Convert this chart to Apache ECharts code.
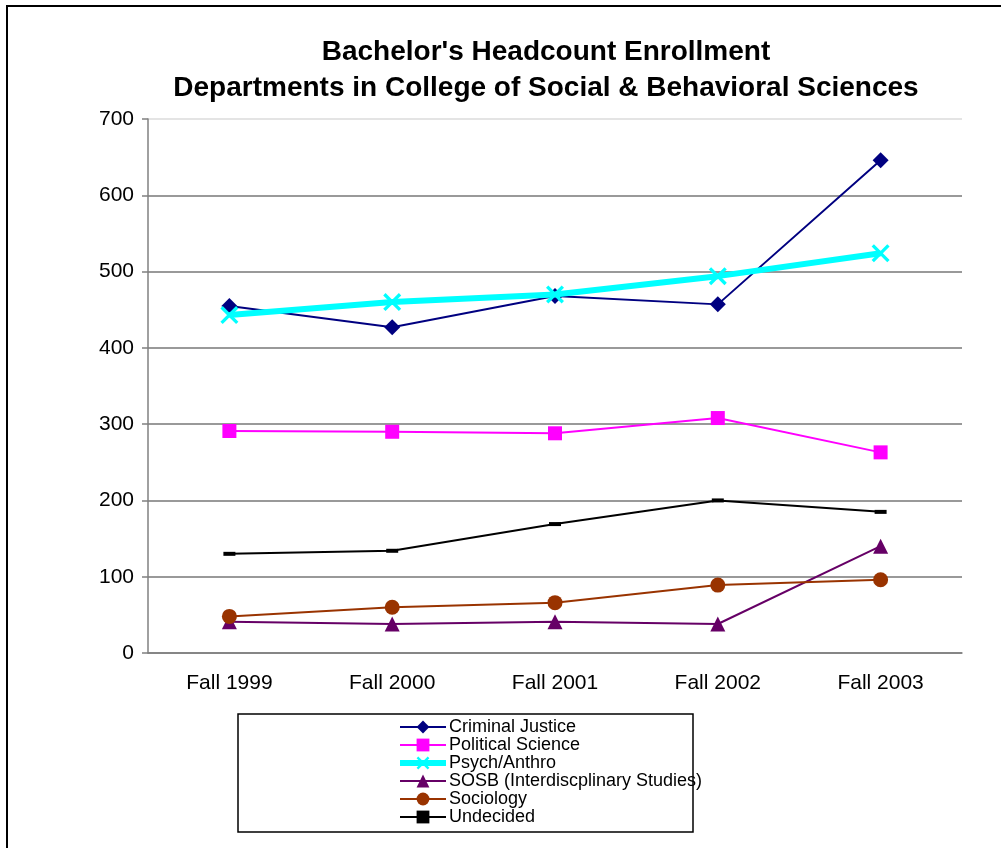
<!DOCTYPE html>
<html>
<head>
<meta charset="utf-8">
<script src="https://cdn.jsdelivr.net/npm/echarts@6/dist/echarts.min.js"></script>
<style>
  html, body { margin: 0; padding: 0; background: #fff; }
  #chart { width: 1001px; height: 848px; }
</style>
</head>
<body>
<div id="chart"></div>
<script>
const terms = ['Fall 1999', 'Fall 2000', 'Fall 2001', 'Fall 2002', 'Fall 2003']

const criminalJustice = [455, 427, 468, 457, 646]
const politicalScience = [291, 290, 288, 308, 263]
const psychAnthro = [443, 460, 470, 494, 524]
const sosb = [41, 38, 41, 38, 140]
const sociology = [48, 60, 66, 89, 96]
const undecided = [130, 134, 169, 200, 185]

const FONT = '"Liberation Sans", Arial, sans-serif'
const xMark = 'path://M0,1.3L1.3,0L10,8.7L8.7,10Z M8.7,0L10,1.3L1.3,10L0,8.7Z'

const mkLine = (name, data, color, width, symbol, size) => ({
  name,
  type: 'line',
  data,
  symbol,
  symbolSize: size,
  showSymbol: true,
  lineStyle: { color, width },
  itemStyle: { color },
  z: width > 3 ? 3 : 2
})

const chart = echarts.init(document.getElementById('chart'))

chart.setOption({
  animation: false,
  title: {
    text: "Bachelor's Headcount Enrollment\nDepartments in College of Social & Behavioral Sciences",
    left: 541,
    textAlign: 'center',
    top: 29,
    textStyle: { fontFamily: FONT, fontSize: 28, fontWeight: 'bold', color: '#000', lineHeight: 36 }
  },
  graphic: [
    { type: 'rect', shape: { x: 7, y: 6, width: 1100, height: 900 }, style: { fill: 'none', stroke: '#000', lineWidth: 2 }, silent: true, z: -10 },
    { type: 'rect', shape: { x: 238, y: 714, width: 455, height: 118 }, style: { fill: '#fff', stroke: '#000', lineWidth: 1.5 }, silent: true, z: -5 }
  ],
  legend: {
    orient: 'vertical',
    left: 397,
    top: 718,
    itemGap: 0,
    itemWidth: 46,
    itemHeight: 16,
    padding: 0,
    textStyle: { fontFamily: FONT, fontSize: 18, color: '#000', lineHeight: 18, padding: [0, 0, 0, -2] },
    data: [
      'Criminal Justice',
      'Political Science',
      { name: 'Psych/Anthro', lineStyle: { width: 6 } },
      'SOSB (Interdiscplinary Studies)',
      'Sociology',
      'Undecided'
    ]
  },
  grid: { left: 148, right: 39, top: 119, bottom: 195 },
  xAxis: {
    type: 'category',
    data: terms,
    boundaryGap: true,
    axisLine: { lineStyle: { color: '#808080', width: 1.5 } },
    axisTick: { length: 6, lineStyle: { color: '#808080', width: 1.5 } },
    axisLabel: { fontFamily: FONT, fontSize: 21, color: '#000', margin: 20 }
  },
  yAxis: {
    type: 'value',
    min: 0,
    max: 700,
    interval: 100,
    axisLine: { show: true, lineStyle: { color: '#808080', width: 1.5 } },
    axisTick: { show: true, length: 6, lineStyle: { color: '#808080', width: 1.5 } },
    axisLabel: { fontFamily: FONT, fontSize: 21, color: '#000', margin: 14 },
    splitLine: { lineStyle: { color: ['#999', '#999', '#999', '#999', '#999', '#999', '#999', '#e4e4e4'], width: 2 } }
  },
  series: [
    mkLine('Criminal Justice', criminalJustice, '#000080', 2, 'diamond', 16),
    mkLine('Political Science', politicalScience, '#ff00ff', 2, 'rect', 14),
    mkLine('Psych/Anthro', psychAnthro, '#00ffff', 6, xMark, 18),
    mkLine('SOSB (Interdiscplinary Studies)', sosb, '#660066', 2, 'triangle', 15),
    mkLine('Sociology', sociology, '#993300', 2, 'circle', 15),
    mkLine('Undecided', undecided, '#000000', 2, 'rect', [12, 4])
  ]
})
</script>
</body>
</html>
